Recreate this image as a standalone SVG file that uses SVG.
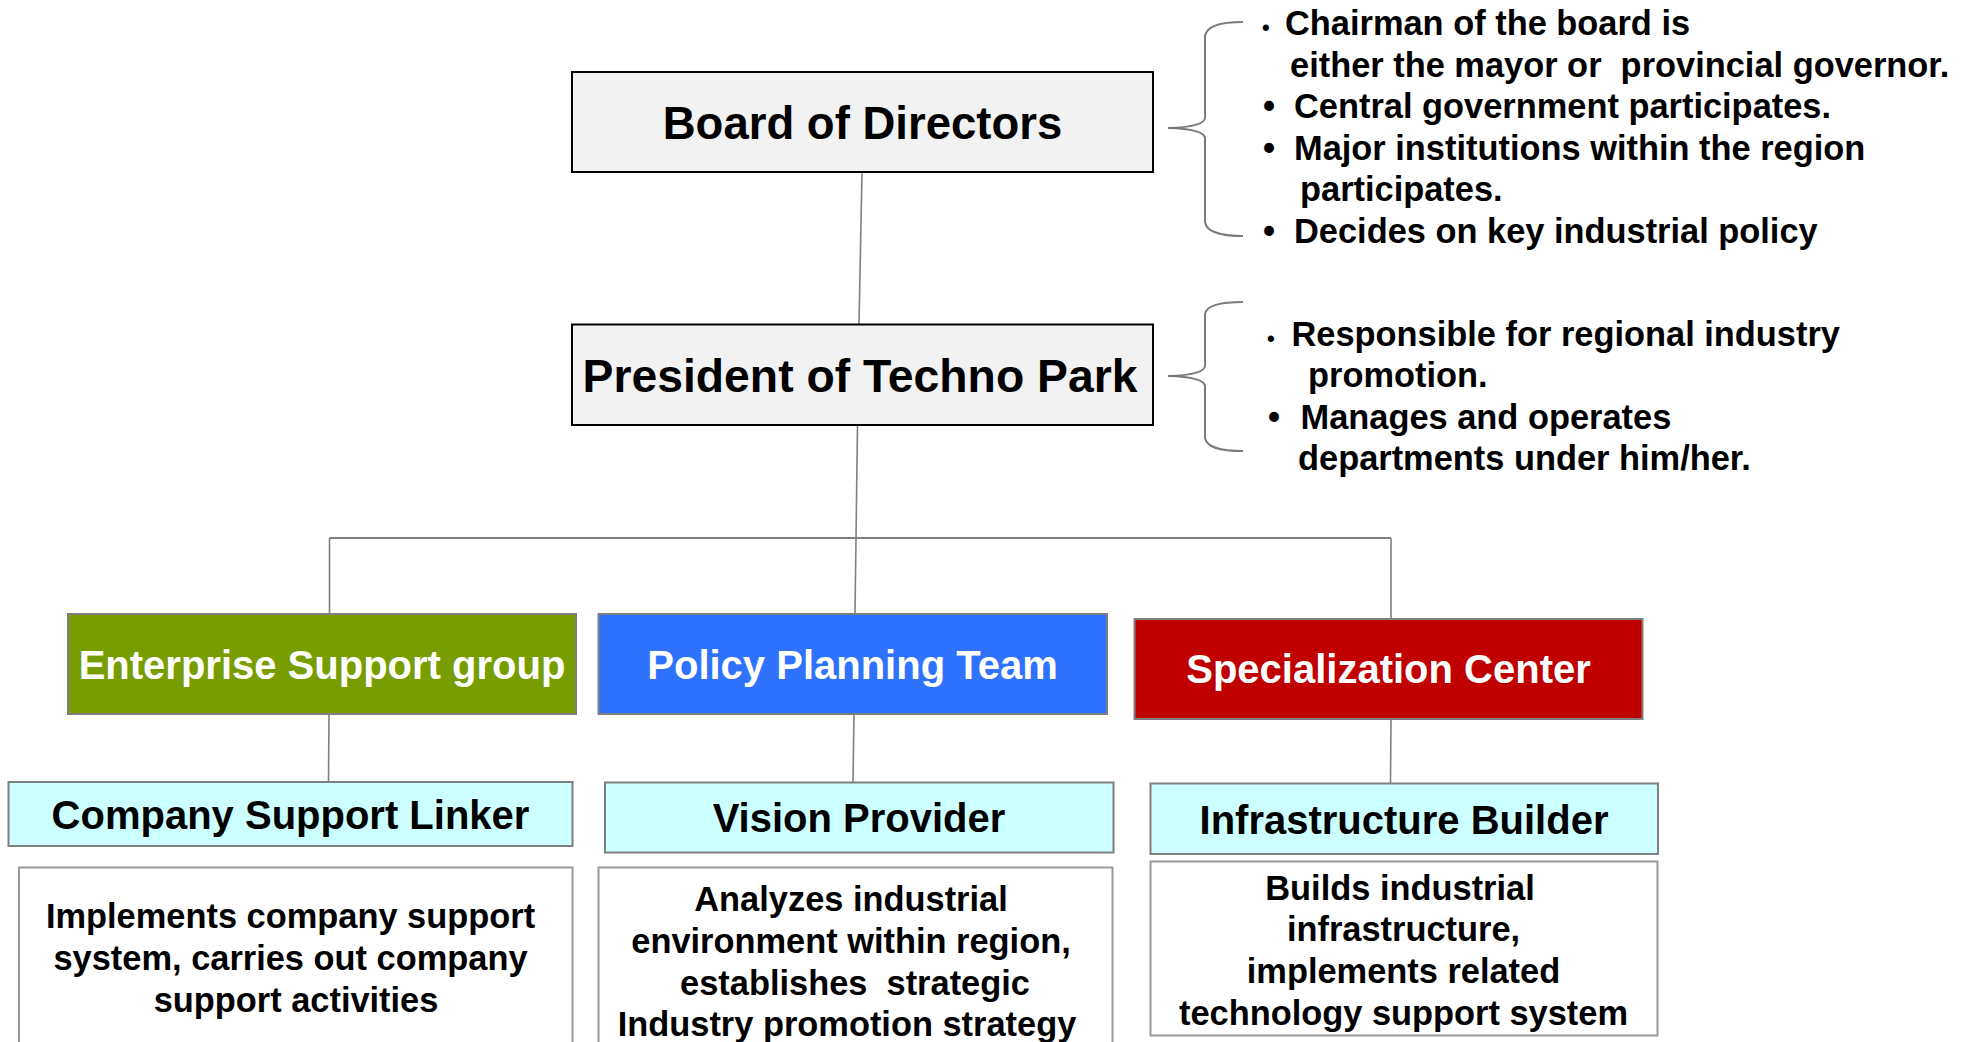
<svg xmlns="http://www.w3.org/2000/svg" width="1972" height="1042" viewBox="0 0 1972 1042">
<style>
text{font-family:"Liberation Sans",Arial,sans-serif;font-weight:bold;}
.title{font-size:45.5px;fill:#000;text-anchor:middle;}
.dept{font-size:40px;fill:#fff;text-anchor:middle;}
.role{font-size:40px;fill:#000;text-anchor:middle;}
.desc{font-size:34.4px;fill:#000;text-anchor:middle;}
.note{font-size:34.4px;fill:#000;}
.top{fill:#f2f2f2;stroke:#000;stroke-width:2;}
.deptbox{stroke:#7f7f7f;stroke-width:2;}
.rolebox{fill:#ccffff;stroke:#7f7f7f;stroke-width:2;}
.descbox{fill:#fff;stroke:#9a9a9a;stroke-width:2;}
.conn{stroke:#808080;stroke-width:1.6;fill:none;}
.brace{stroke:#7a7a7a;stroke-width:2;fill:none;}
</style>
<rect width="1972" height="1042" fill="#fff"/>
<g id="connectors">
<line class="conn" x1="862" y1="172" x2="859" y2="324"/>
<line class="conn" x1="857.5" y1="425" x2="855" y2="614"/>
<line class="conn" x1="329.5" y1="538" x2="1391" y2="538" style="stroke-width:2"/>
<line class="conn" x1="329.5" y1="538" x2="329.5" y2="614"/>
<line class="conn" x1="1391" y1="538" x2="1391" y2="619"/>
<line class="conn" x1="329" y1="714" x2="328.5" y2="782"/>
<line class="conn" x1="854" y1="714" x2="853" y2="782"/>
<line class="conn" x1="1391" y1="719" x2="1390.5" y2="783"/>
</g>
<g id="board">
<rect class="top" x="572" y="72" width="581" height="100"/>
<text class="title" x="862.5" y="139">Board of Directors</text>
</g>
<g id="president">
<rect class="top" x="572" y="324.5" width="581" height="100.5"/>
<text class="title" x="860" y="392" style="font-size:46.3px">President of Techno Park</text>
</g>
<g id="board-notes">
<path class="brace" d="M1243,22 Q1207,22 1205,36 L1205,118 Q1204,127 1168,128 Q1204,129 1205,138 L1205,222 Q1207,236 1243,236"/>
<text class="note" x="1262" y="35" style="font-size:22px">•</text>
<text class="note" x="1285" y="35">Chairman of the board is</text>
<text class="note" x="1290" y="76.5" xml:space="preserve">either the mayor or  provincial governor.</text>
<text class="note" x="1263" y="118">•</text>
<text class="note" x="1294" y="118">Central government participates.</text>
<text class="note" x="1263" y="159.5">•</text>
<text class="note" x="1294" y="159.5">Major institutions within the region</text>
<text class="note" x="1300" y="201">participates.</text>
<text class="note" x="1263" y="242.5">•</text>
<text class="note" x="1294" y="242.5">Decides on key industrial policy</text>
</g>
<g id="president-notes">
<path class="brace" d="M1243,302 Q1207,302 1205,314 L1205,366 Q1204,375 1168,376 Q1204,377 1205,386 L1205,438 Q1207,451 1243,451"/>
<text class="note" x="1267" y="345.5" style="font-size:22px">•</text>
<text class="note" x="1291.5" y="345.5">Responsible for regional industry</text>
<text class="note" x="1308" y="387">promotion.</text>
<text class="note" x="1268" y="428.5">•</text>
<text class="note" x="1300.5" y="428.5">Manages and operates</text>
<text class="note" x="1298" y="470">departments under him/her.</text>
</g>
<g id="enterprise-support">
<rect class="deptbox" x="68" y="614" width="508" height="100" fill="#789d00"/>
<text class="dept" x="322" y="679">Enterprise Support group</text>
</g>
<g id="policy-planning">
<rect class="deptbox" x="598.5" y="614" width="508.5" height="100" fill="#2e72fe"/>
<text class="dept" x="852.5" y="679">Policy Planning Team</text>
</g>
<g id="specialization-center">
<rect class="deptbox" x="1134.5" y="619" width="508" height="100" fill="#c00000"/>
<text class="dept" x="1388.5" y="683">Specialization Center</text>
</g>
<g id="company-support-linker">
<rect class="rolebox" x="8.5" y="782" width="564" height="64"/>
<text class="role" x="290.5" y="828.5">Company Support Linker</text>
</g>
<g id="vision-provider">
<rect class="rolebox" x="605" y="782.5" width="508.5" height="70"/>
<text class="role" x="859" y="832">Vision Provider</text>
</g>
<g id="infrastructure-builder">
<rect class="rolebox" x="1150.5" y="783.5" width="507.5" height="70.5"/>
<text class="role" x="1404" y="833.5">Infrastructure Builder</text>
</g>
<g id="company-support-desc">
<rect class="descbox" x="19" y="867.5" width="553.5" height="190"/>
<text class="desc" x="290.5" y="927.5">Implements company support</text>
<text class="desc" x="290.5" y="969.5">system, carries out company</text>
<text class="desc" x="296" y="1011.5">support activities</text>
</g>
<g id="vision-provider-desc">
<rect class="descbox" x="598.5" y="867.5" width="514" height="190"/>
<text class="desc" x="851" y="911">Analyzes industrial</text>
<text class="desc" x="851" y="953">environment within region,</text>
<text class="desc" x="855" y="994.5" xml:space="preserve">establishes  strategic</text>
<text class="desc" x="847" y="1036">Industry promotion strategy</text>
</g>
<g id="infrastructure-builder-desc">
<rect class="descbox" x="1150.5" y="861.5" width="507" height="174"/>
<text class="desc" x="1400" y="900">Builds industrial</text>
<text class="desc" x="1403.5" y="941">infrastructure,</text>
<text class="desc" x="1403.5" y="983">implements related</text>
<text class="desc" x="1403.5" y="1024.5">technology support system</text>
</g>
</svg>
